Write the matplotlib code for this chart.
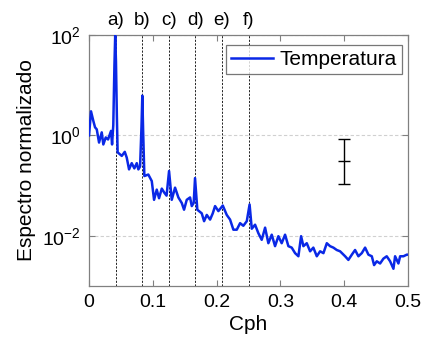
import matplotlib
matplotlib.use('Agg')
import matplotlib.pyplot as plt
from matplotlib.ticker import NullLocator

plt.rcParams['font.family'] = ['Liberation Sans', 'DejaVu Sans']
plt.rcParams['mathtext.fontset'] = 'custom'
plt.rcParams['mathtext.rm'] = 'Liberation Sans'
plt.rcParams['mathtext.it'] = 'Liberation Sans'

# spectrum (frequency in cph, normalized power)
freq = [0.0, 0.0031, 0.0067, 0.0094, 0.0121, 0.0157, 0.0199, 0.0224, 0.0262, 0.0298,
        0.0345, 0.0361, 0.0380, 0.0398, 0.0410, 0.0422, 0.0436, 0.0448, 0.0513, 0.0560,
        0.0591, 0.0627, 0.0669, 0.0710, 0.0748, 0.0773, 0.0800, 0.0822, 0.0835, 0.0848,
        0.0867, 0.0929, 0.0983, 0.1019, 0.1061, 0.1097, 0.1140, 0.1180, 0.1215, 0.1254,
        0.1296, 0.1348, 0.1400, 0.1453, 0.1489, 0.1531, 0.1583, 0.1610, 0.1640, 0.1661,
        0.1697, 0.1766, 0.1803, 0.1845, 0.1897, 0.1939, 0.1975, 0.2027, 0.2096, 0.2158,
        0.2210, 0.2262, 0.2315, 0.2367, 0.2418, 0.2472, 0.2516, 0.2550, 0.2602, 0.2654,
        0.2706, 0.2759, 0.2810, 0.2863, 0.2915, 0.2967, 0.3019, 0.3072, 0.3124, 0.3176,
        0.3229, 0.3281, 0.3323, 0.3359, 0.3412, 0.3464, 0.3515, 0.3569, 0.3621, 0.3673,
        0.3726, 0.3777, 0.3829, 0.3882, 0.3934, 0.4013, 0.4064, 0.4118, 0.4169, 0.4221,
        0.4274, 0.4326, 0.4378, 0.4431, 0.4467, 0.4509, 0.4561, 0.4613, 0.4665, 0.4718,
        0.4770, 0.4796, 0.4848, 0.4875, 0.4927, 0.4980, 0.5]
power = [1.0, 3.02, 1.95, 1.45, 1.32, 0.72, 1.15, 0.66, 0.91, 0.83,
         1.23, 0.66, 1.6, 25.0, 98.0, 30.0, 2.5, 0.46, 0.39, 0.47,
         0.36, 0.21, 0.28, 0.22, 0.28, 0.21, 0.24, 1.5, 6.2, 1.2,
         0.155, 0.166, 0.123, 0.052, 0.083, 0.056, 0.087, 0.072, 0.063, 0.195,
         0.052, 0.091, 0.058, 0.045, 0.033, 0.052, 0.058, 0.039, 0.045, 0.141,
         0.033, 0.028, 0.0195, 0.026, 0.021, 0.028, 0.039, 0.031, 0.040, 0.026,
         0.021, 0.0132, 0.0132, 0.0178, 0.0158, 0.0195, 0.042, 0.0138, 0.0166, 0.0112,
         0.0083, 0.0145, 0.0071, 0.0105, 0.0062, 0.0098, 0.0071, 0.0105, 0.0062, 0.0058,
         0.0045, 0.0039, 0.0098, 0.0062, 0.0071, 0.0049, 0.0058, 0.0039, 0.0049, 0.0045,
         0.0071, 0.0062, 0.0058, 0.0052, 0.0049, 0.0039, 0.0033, 0.0042, 0.0052, 0.0039,
         0.0045, 0.0058, 0.0042, 0.0039, 0.0026, 0.0031, 0.0028, 0.0035, 0.0039, 0.0031,
         0.0022, 0.0039, 0.0028, 0.0039, 0.0039, 0.0042, 0.0042]

# tidal / harmonic frequencies marked with dashed lines
peak_freqs = [1/24, 1/12, 1/8, 1/6, 5/24, 1/4]
peak_labels = ['a)', 'b)', 'c)', 'd)', 'e)', 'f)']

# confidence interval bar
ci_x = 0.40
ci_mid = 0.305
ci_low = 0.107
ci_high = 0.83

fig = plt.figure(figsize=(4.26, 3.47), dpi=100)
ax = fig.add_axes([0.209, 0.176, 0.749, 0.723])

for f in peak_freqs:
    ax.axvline(f, color='#222222', lw=0.7, ls=(0, (2.2, 1.5)), zorder=1)

ax.plot(freq, power, color='#0a28e6', lw=1.8, label='Temperatura', zorder=3)

ax.errorbar([ci_x], [ci_mid], yerr=[[ci_mid - ci_low], [ci_high - ci_mid]],
            color='black', lw=1.0, capsize=4, capthick=1.0, marker='_', ms=8, mew=1.0)

ax.set_yscale('log')
ax.set_xlim(0, 0.5)
ax.set_ylim(1e-3, 1e2)
ax.set_xticks([0, 0.1, 0.2, 0.3, 0.4, 0.5])
ax.set_xticklabels(['0', '0.1', '0.2', '0.3', '0.4', '0.5'])
ax.set_yticks([1e-2, 1e0, 1e2])
ax.set_yticklabels([r'$10^{-2}$', r'$10^{0}$', r'$10^{2}$'])
ax.yaxis.set_minor_locator(NullLocator())
ax.yaxis.grid(True, color='#d0d0d0', ls=(0, (3, 2)), lw=0.8)

ax.tick_params(direction='in', top=True, right=True, length=4, color='#808080',
               labelsize=14, pad=6)
for s in ax.spines.values():
    s.set_color('#808080')
    s.set_linewidth(0.9)

ax.set_xlabel('Cph', fontsize=15, labelpad=3)
ax.set_ylabel('Espectro normalizado', fontsize=15, labelpad=4)

sec = ax.secondary_xaxis('top')
sec.set_xticks(peak_freqs)
sec.set_xticklabels(peak_labels, fontsize=13.5)
sec.tick_params(length=0, pad=4)
sec.spines['top'].set_visible(False)

leg = ax.legend(loc='upper right', fontsize=15, frameon=True, fancybox=False,
                handlelength=2.0, borderpad=0.25, handletextpad=0.3,
                borderaxespad=0.3, bbox_to_anchor=(1.0, 0.985))
leg.get_frame().set_edgecolor('#555555')
leg.get_frame().set_linewidth(0.9)

fig.savefig('out.png', dpi=100)
